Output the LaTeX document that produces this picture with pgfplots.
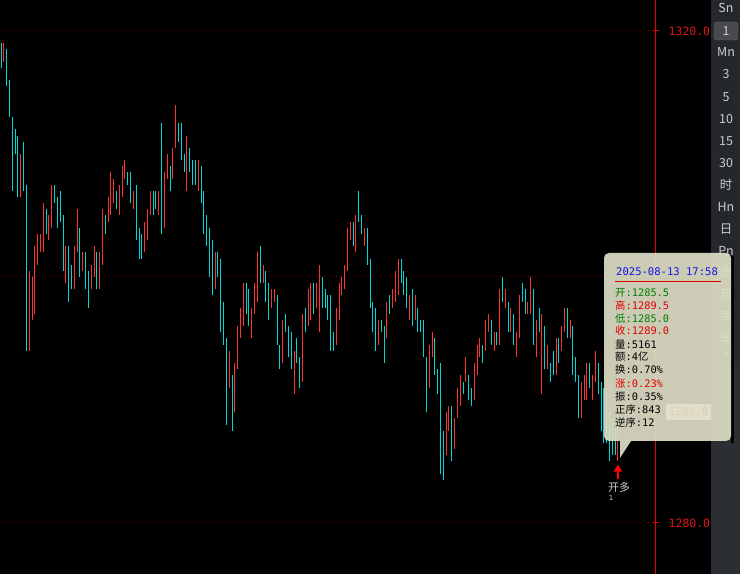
\documentclass[border=0pt]{standalone}
\usepackage{pgfplots}
\pgfplotsset{compat=1.18}
\usepackage{pgfplotstable}
\usepackage{fontspec}
\usetikzlibrary{arrows.meta}
\newfontfamily\cjk{Noto Sans CJK SC}
\newfontfamily\mono{DejaVu Sans Mono}
\newfontfamily\dejavu{DejaVu Sans}
\definecolor{upred}{RGB}{255,50,50}
\definecolor{dncyan}{RGB}{0,215,215}
\definecolor{axred}{RGB}{235,0,0}
\definecolor{gridred}{RGB}{125,0,0}
\definecolor{labred}{RGB}{215,25,25}
\definecolor{paneltop}{RGB}{36,39,43}
\definecolor{panelbot}{RGB}{43,46,50}
\definecolor{btn}{RGB}{205,205,205}
\definecolor{btnbox}{RGB}{72,74,78}
\definecolor{btnedge}{RGB}{105,105,108}
\definecolor{popc}{RGB}{221,221,198}
\definecolor{popblue}{RGB}{20,20,230}
\definecolor{popgreen}{RGB}{0,125,0}
\definecolor{popred}{RGB}{225,0,0}

\pgfplotstableread{
x lo hi
2 1317.5 1319.0
8 1306.5 1310.0
11 1294.0 1300.5
12 1296.5 1300.0
13 1297.0 1302.5
14 1301.0 1303.5
15 1302.0 1303.5
16 1302.0 1306.0
18 1303.0 1305.0
19 1304.0 1307.5
24 1299.5 1302.5
27 1299.0 1302.5
28 1302.0 1305.5
30 1300.5 1302.0
33 1299.0 1301.0
34 1300.0 1302.5
36 1299.0 1302.0
37 1301.0 1305.5
39 1304.5 1306.5
40 1305.0 1308.5
41 1306.0 1308.0
43 1305.0 1307.5
44 1306.5 1309.0
45 1308.0 1309.5
48 1305.5 1307.0
52 1302.0 1304.5
53 1303.0 1305.5
54 1305.0 1307.0
57 1305.0 1307.0
59 1304.0 1308.5
60 1308.0 1310.0
62 1308.0 1310.5
63 1310.5 1314.0
67 1307.0 1311.5
71 1307.0 1309.5
77 1299.0 1302.0
82 1291.0 1294.0
84 1289.0 1293.0
85 1292.5 1296.0
86 1295.0 1297.5
87 1296.0 1299.5
90 1295.0 1297.5
91 1297.0 1299.5
92 1298.0 1302.0
94 1299.5 1301.0
97 1297.5 1299.0
98 1298.0 1299.0
101 1293.0 1296.5
105 1290.5 1294.0
108 1291.5 1297.0
110 1296.0 1299.0
111 1296.5 1299.5
113 1297.5 1299.5
114 1295.5 1301.0
120 1294.5 1297.5
121 1296.5 1299.5
122 1298.5 1300.0
123 1299.0 1301.0
124 1300.5 1304.0
125 1303.0 1304.5
127 1302.0 1305.0
130 1302.5 1304.0
135 1294.5 1296.5
138 1295.0 1298.0
140 1297.5 1299.0
141 1298.0 1300.5
142 1298.5 1301.5
146 1296.5 1298.5
148 1296.5 1298.5
153 1291.0 1294.5
154 1293.5 1295.5
159 1285.5 1289.0
160 1287.5 1289.5
162 1286.0 1288.5
163 1288.5 1291.0
164 1289.5 1292.0
166 1291.5 1293.5
169 1290.0 1293.0
170 1292.0 1294.5
171 1293.5 1295.0
173 1294.0 1296.5
174 1295.5 1297.0
176 1294.0 1295.5
178 1294.5 1299.0
180 1297.5 1299.0
182 1295.5 1297.5
184 1293.5 1295.5
185 1295.0 1298.5
188 1297.0 1298.0
189 1297.0 1300.0
191 1293.5 1296.5
193 1290.5 1297.0
195 1292.5 1294.5
198 1292.0 1295.0
200 1294.0 1296.0
201 1295.5 1297.5
203 1295.0 1296.5
207 1288.5 1291.5
208 1290.0 1292.0
209 1290.0 1293.0
211 1290.0 1292.0
212 1291.5 1294.0
220 1285.0 1289.5
}\upbars

\pgfplotstableread{
x lo hi
1 1317.0 1319.0
3 1315.5 1318.5
4 1313.0 1316.0
5 1307.0 1313.0
6 1310.0 1312.0
7 1306.5 1311.5
9 1307.0 1311.0
10 1294.0 1307.5
17 1303.5 1305.5
20 1306.0 1307.5
21 1304.0 1306.5
22 1304.5 1307.0
23 1300.5 1305.0
25 1298.0 1302.5
26 1299.0 1301.0
29 1300.0 1304.0
31 1299.0 1302.0
32 1297.5 1300.5
35 1299.0 1302.0
38 1303.5 1305.0
42 1305.5 1307.0
46 1307.5 1308.5
47 1306.0 1308.5
49 1303.0 1307.5
50 1301.5 1304.0
51 1301.5 1303.5
55 1305.0 1307.0
56 1305.5 1307.0
58 1303.5 1312.5
61 1307.0 1309.0
64 1311.0 1312.5
65 1309.5 1312.5
66 1308.5 1310.0
68 1308.5 1310.5
69 1307.5 1309.5
70 1307.5 1309.5
72 1306.0 1309.0
73 1303.5 1307.0
74 1302.5 1305.0
75 1300.0 1304.0
76 1298.5 1303.0
78 1300.0 1302.0
79 1295.5 1301.5
80 1294.5 1298.0
81 1288.0 1295.0
83 1287.5 1292.0
88 1297.0 1299.5
89 1296.0 1299.0
93 1299.5 1302.5
95 1298.0 1300.5
96 1296.5 1299.5
99 1294.5 1298.5
100 1292.5 1294.5
102 1295.5 1297.0
103 1293.5 1296.0
104 1292.5 1295.5
106 1293.0 1295.0
107 1291.0 1293.5
109 1295.5 1297.5
112 1297.0 1299.5
115 1297.5 1300.0
116 1297.5 1299.0
117 1296.5 1298.5
118 1294.0 1298.5
119 1294.0 1295.5
126 1302.5 1304.5
128 1304.5 1307.0
129 1303.5 1305.0
131 1301.0 1304.0
132 1297.5 1301.5
133 1295.5 1298.0
134 1294.0 1297.5
136 1295.5 1296.5
137 1293.0 1296.0
139 1297.0 1298.5
143 1299.5 1301.5
144 1298.5 1300.5
145 1297.5 1300.0
147 1296.0 1299.0
149 1295.5 1297.5
150 1295.5 1296.5
151 1293.5 1296.5
152 1289.0 1293.5
155 1292.0 1295.0
156 1290.5 1292.5
157 1284.0 1293.0
158 1283.5 1287.5
161 1285.0 1289.5
165 1290.5 1291.5
167 1290.0 1292.0
168 1289.5 1291.0
172 1293.0 1294.5
175 1294.5 1296.5
177 1294.5 1295.5
179 1298.0 1300.0
181 1295.5 1298.0
183 1294.5 1297.0
186 1298.0 1299.5
187 1297.0 1299.0
190 1294.5 1299.0
192 1295.5 1297.5
194 1292.5 1296.0
196 1291.5 1293.0
197 1292.0 1294.0
199 1293.0 1295.0
202 1295.0 1297.5
204 1292.0 1296.0
205 1291.5 1293.5
206 1288.5 1292.0
210 1291.0 1293.0
213 1290.5 1293.0
214 1287.5 1291.5
215 1286.5 1291.0
216 1286.5 1290.5
217 1285.0 1289.0
218 1285.5 1288.5
219 1285.5 1288.0
}\dnbars

\begin{document}
\begin{tikzpicture}
\useasboundingbox (0,0) rectangle (740bp,574bp);
\fill[black] (0,0) rectangle (740bp,574bp);
\begin{scope}[x=1bp,y=1bp]
\fill[paneltop] (711,213) rectangle (740,574);
\fill[panelbot] (711,0) rectangle (740,213);
\filldraw[fill=btnbox, draw=btnedge, rounded corners=3] (714,534) rectangle (738,552);
\foreach \t/\y in {Sn/8, 1/31, Mn/52, 3/74, 5/97, 10/119, 15/141, 30/163, 时/185, Hn/207, 日/229, Pn/251, 周/273, 月/295, 季/317, 年/339}
  \node[text=btn, inner sep=0, font=\cjk\fontsize{12.5}{13}\selectfont] at (726,574-\y) {\t};
\node[text=btn, inner sep=0, font=\dejavu\fontsize{7}{8}\selectfont] at (726,221) {◂};
\end{scope}

\begin{axis}[at={(0,0)}, anchor=south west, scale only axis,
  width=655.5bp, height=574bp,
  xmin=0.645, xmax=233.34, ymin=1275.85, ymax=1322.52,
  axis x line=none, axis y line*=right,
  y axis line style={draw=axred, line width=1.2bp, -},
  ytick={1280,1300,1320}, yticklabels={1280.0,,1320.0},
  yticklabel style={font=\mono\fontsize{11.5}{12}\selectfont, text=labred, anchor=west, inner sep=0pt, xshift=10bp},
  tick align=center, major tick length=6bp,
  ytick style={draw=axred, line width=1bp},
  ymajorgrids, grid style={draw=gridred, line width=1bp, dash pattern=on 1bp off 3bp},
  clip=true]
\addplot[upred, line width=0.9bp, quiver={u=0, v=\thisrow{hi}-\thisrow{lo}}] table[x=x, y=lo] {\upbars};
\addplot[dncyan, line width=0.9bp, quiver={u=0, v=\thisrow{hi}-\thisrow{lo}}] table[x=x, y=lo] {\dnbars};
\draw[red, line width=1.6bp, -{Triangle[width=8bp,length=7bp]}] (axis cs:220,1283.55) -- (axis cs:220,1284.75);
\node[text=btn, inner sep=0, font=\cjk\fontsize{11}{12}\selectfont] at (axis cs:220.4,1282.93) {开多};
\node[text=btn, inner sep=0, font=\mono\fontsize{7}{8}\selectfont] at (axis cs:217.5,1282.05) {1};
\end{axis}

\begin{scope}[x=1bp,y=1bp]
% right price-axis line, crisp
\draw[axred, line width=1.4] (655.5,0) -- (655.5,574);
% current price label lying under the tooltip
\fill[white] (666,154) rectangle (711,170);
\node[text=red, inner sep=0, font=\mono\fontsize{11}{12}\selectfont] at (688.5,162) {1289.0};
% tooltip
\fill[black] (731,131) rectangle (733.5,318);
\fill[popc, fill opacity=0.92, rounded corners=5] (604,133) rectangle (731,321);
\fill[popc, fill opacity=0.92] (620,133) -- (631,133) -- (620,116) -- cycle;
\node[anchor=west, inner sep=0, text=popblue, font=\mono\fontsize{10.6}{12}\selectfont] at (616,302.5) {2025-08-13 17:58};
\draw[popred, line width=1] (615,292.5) -- (721,292.5);
\tikzset{row/.style={anchor=west, inner sep=0, font=\mono\fontsize{10.4}{12}\selectfont}}
\node[row, text=popgreen] at (615,281) {{\cjk 开}:1285.5};
\node[row, text=popred] at (615,268) {{\cjk 高}:1289.5};
\node[row, text=popgreen] at (615,255.5) {{\cjk 低}:1285.0};
\node[row, text=popred] at (615,243) {{\cjk 收}:1289.0};
\node[row, text=black] at (615,229.5) {{\cjk 量}:5161};
\node[row, text=black] at (615,217) {{\cjk 额}:4{\cjk 亿}};
\node[row, text=black] at (615,204) {{\cjk 换}:0.70\%};
\node[row, text=popred] at (615,190.5) {{\cjk 涨}:0.23\%};
\node[row, text=black] at (615,177) {{\cjk 振}:0.35\%};
\node[row, text=black] at (615,164) {{\cjk 正序}:843};
\node[row, text=black] at (615,151) {{\cjk 逆序}:12};
\end{scope}
\end{tikzpicture}
\end{document}
